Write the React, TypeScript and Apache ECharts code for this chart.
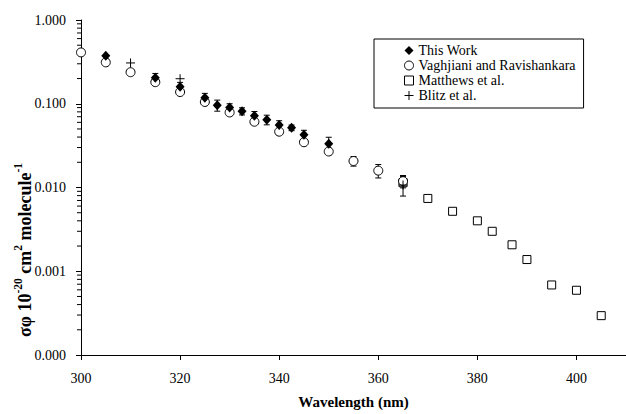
import React, { useEffect, useRef } from "react";
import * as echarts from "echarts";

// ---- data ----
const twWavelengths = [305, 315, 320, 325, 327.5, 330, 332.5, 335, 337.5, 340, 342.5, 345, 350];
const twValues = [0.375, 0.204, 0.16, 0.118, 0.096, 0.09, 0.0815, 0.0718, 0.0645, 0.0557, 0.0517, 0.0427, 0.0332];
const twErrors = [0, 0.026, 0.02, 0.015, 0.0145, 0.01, 0.008, 0.009, 0.0085, 0.007, 0.004, 0.0055, 0.0066];

const vrWavelengths = [300, 305, 310, 315, 320, 325, 330, 335, 340, 345, 350, 355, 360, 365];
const vrValues = [0.41, 0.312, 0.238, 0.181, 0.138, 0.105, 0.0787, 0.061, 0.0464, 0.0347, 0.0269, 0.0207, 0.0159, 0.0119];
const vrErrors = [0, 0, 0, 0, 0, 0, 0, 0, 0, 0, 0, 0.0027, 0.0029, 0.002];

const mWavelengths = [365, 370, 375, 380, 383, 387, 390, 395, 400, 405];
const mValues = [0.0114, 0.0074, 0.0052, 0.004, 0.003, 0.00207, 0.00138, 0.000686, 0.000593, 0.000295];
const mErrors = [0.0003, 0.0002, 0.00014, 0.0001, 0.00008, 0.00005, 0.00004, 0.00002, 0.000015, 0.000008];

const bWavelengths = [310, 320, 365];
const bValues = [0.307, 0.199, 0.0107];
const bErrors = [0, 0, 0.0028];

const seriesNames = ["This Work", "Vaghjiani and Ravishankara", "Matthews et al.", "Blitz et al."];
const xTickLabels = ["300", "320", "340", "360", "380", "400"];
const X_MIN = 300;
const X_MAX = 410;
const Y_MIN = 0.0001;
const Y_MAX = 1;
const minorMultipliers = [2, 3, 4, 5, 6, 7, 8, 9];
const decades = [0.0001, 0.001, 0.01, 0.1];

const FONT = "'Liberation Serif', 'Times New Roman', serif";
const PLUS = "path://M5,0L5,10M0,5L10,5";

function pts(xs: number[], ys: number[]) {
  return xs.map((x, i) => [x, ys[i]]);
}
function errPts(xs: number[], ys: number[], es: number[]) {
  return xs.map((x, i) => [x, ys[i], es[i]]);
}

const errRender = (params: any, api: any) => {
  const x = api.value(0);
  const y = api.value(1);
  const e = api.value(2);
  if (!e || e <= 0) return null;
  const lo = api.coord([x, y - e]);
  const hi = api.coord([x, y + e]);
  const cw = 3;
  const st = { stroke: "#000", lineWidth: 1 };
  return {
    type: "group",
    children: [
      { type: "line", shape: { x1: lo[0], y1: lo[1], x2: hi[0], y2: hi[1] }, style: st },
      { type: "line", shape: { x1: lo[0] - cw, y1: lo[1], x2: lo[0] + cw, y2: lo[1] }, style: st },
      { type: "line", shape: { x1: hi[0] - cw, y1: hi[1], x2: hi[0] + cw, y2: hi[1] }, style: st },
    ],
  };
};

export default function App() {
  const ref = useRef<HTMLDivElement>(null);
  useEffect(() => {
    if (!ref.current) return;
    const chart = echarts.init(ref.current, undefined, { renderer: "svg" });
    const minorVals: number[][] = [];
    decades.forEach((d) => minorMultipliers.forEach((m) => minorVals.push([X_MIN, d * m])));

    const errSeries = (data: number[][]) => ({
      type: "custom",
      renderItem: errRender,
      data,
      z: 1,
      silent: true,
      encode: { x: 0, y: 1 },
    });

    const option: any = {
      animation: false,
      backgroundColor: "#fff",
      textStyle: { fontFamily: FONT, color: "#000" },
      grid: { left: 81, top: 20, width: 547, height: 339 },
      legend: {
        orient: "vertical",
        left: 374,
        top: 39,
        padding: [4, 8, 5, 30],
        backgroundColor: "#fff",
        borderColor: "#000",
        borderWidth: 1,
        itemGap: 0,
        itemWidth: 9,
        itemHeight: 9,
        textStyle: { fontFamily: FONT, fontSize: 14, color: "#000", lineHeight: 15 },
        data: [
          { name: seriesNames[0], icon: "diamond", itemStyle: { color: "#000", borderColor: "#000" } },
          { name: seriesNames[1], icon: "circle", itemStyle: { color: "#fff", borderColor: "#000", borderWidth: 1 } },
          { name: seriesNames[2], icon: "rect", itemStyle: { color: "#fff", borderColor: "#000", borderWidth: 1 } },
          { name: seriesNames[3], icon: PLUS, itemStyle: { color: "transparent", borderColor: "#000", borderWidth: 1 } },
        ],
      },
      xAxis: {
        type: "value",
        min: X_MIN,
        max: X_MAX,
        interval: 20,
        name: "Wavelength (nm)",
        nameLocation: "middle",
        nameGap: 39,
        nameTextStyle: { fontFamily: FONT, fontSize: 15, fontWeight: "bold", color: "#000" },
        axisLine: { show: true, onZero: false, lineStyle: { color: "#000", width: 1 } },
        axisTick: { show: true, inside: false, length: 5, lineStyle: { color: "#000" } },
        axisLabel: {
          fontFamily: FONT,
          fontSize: 14,
          color: "#000",
          margin: 16,
          showMaxLabel: false,
          formatter: (v: number) => (xTickLabels.includes(String(v)) ? String(v) : ""),
        },
        splitLine: { show: false },
      },
      yAxis: {
        type: "log",
        logBase: 10,
        min: Y_MIN,
        max: Y_MAX,
        axisLine: { show: true, lineStyle: { color: "#000", width: 1 } },
        axisTick: { show: true, inside: false, length: 5, lineStyle: { color: "#000" } },
        axisLabel: {
          fontFamily: FONT,
          fontSize: 14,
          color: "#000",
          margin: 15,
          formatter: (v: number) => v.toFixed(3),
        },
        splitLine: { show: false },
      },
      graphic: [
        {
          type: "text",
          x: 23,
          y: 250,
          rotation: Math.PI / 2,
          style: {
            text: "{b|σφ 10}{s|-20}{b| cm}{s|2}{b| molecule}{s|-1}",
            align: "center",
            verticalAlign: "middle",
            fill: "#000",
            rich: {
              b: { fontFamily: FONT, fontSize: 18, fontWeight: "bold", lineHeight: 22, verticalAlign: "bottom", fill: "#000" },
              s: { fontFamily: FONT, fontSize: 11.5, fontWeight: "bold", lineHeight: 22, verticalAlign: "top", fill: "#000" },
            },
          },
        },
      ],
      series: [
        {
          type: "custom",
          silent: true,
          clip: false,
          z: 1,
          data: minorVals,
          encode: { x: 0, y: 1 },
          renderItem: (params: any, api: any) => {
            const p = api.coord([api.value(0), api.value(1)]);
            return {
              type: "line",
              shape: { x1: p[0] - 4, y1: p[1], x2: p[0], y2: p[1] },
              style: { stroke: "#000", lineWidth: 1 },
            };
          },
        },
        errSeries(errPts(vrWavelengths, vrValues, vrErrors)),
        errSeries(errPts(mWavelengths, mValues, mErrors)),
        errSeries(errPts(bWavelengths, bValues, bErrors)),
        errSeries(errPts(twWavelengths, twValues, twErrors)),
        {
          name: seriesNames[2],
          type: "scatter",
          symbol: "rect",
          symbolSize: 8,
          z: 3,
          itemStyle: { color: "#fff", borderColor: "#000", borderWidth: 1, opacity: 1 },
          data: pts(mWavelengths, mValues),
        },
        {
          name: seriesNames[1],
          type: "scatter",
          symbol: "circle",
          symbolSize: 9,
          z: 4,
          itemStyle: { color: "#fff", borderColor: "#000", borderWidth: 1, opacity: 1 },
          data: pts(vrWavelengths, vrValues),
        },
        {
          name: seriesNames[3],
          type: "scatter",
          symbol: PLUS,
          symbolSize: 9,
          z: 5,
          itemStyle: { color: "transparent", borderColor: "#000", borderWidth: 1, opacity: 1 },
          data: pts(bWavelengths, bValues),
        },
        {
          name: seriesNames[0],
          type: "scatter",
          symbol: "diamond",
          symbolSize: [9, 10],
          z: 6,
          itemStyle: { color: "#000", borderColor: "#000", borderWidth: 0, opacity: 1 },
          data: pts(twWavelengths, twValues),
        },
      ],
    };
    chart.setOption(option);
    return () => chart.dispose();
  }, []);
  return <div ref={ref} style={{ width: 626, height: 414, position: "absolute", left: 0, top: 0 }} />;
}
